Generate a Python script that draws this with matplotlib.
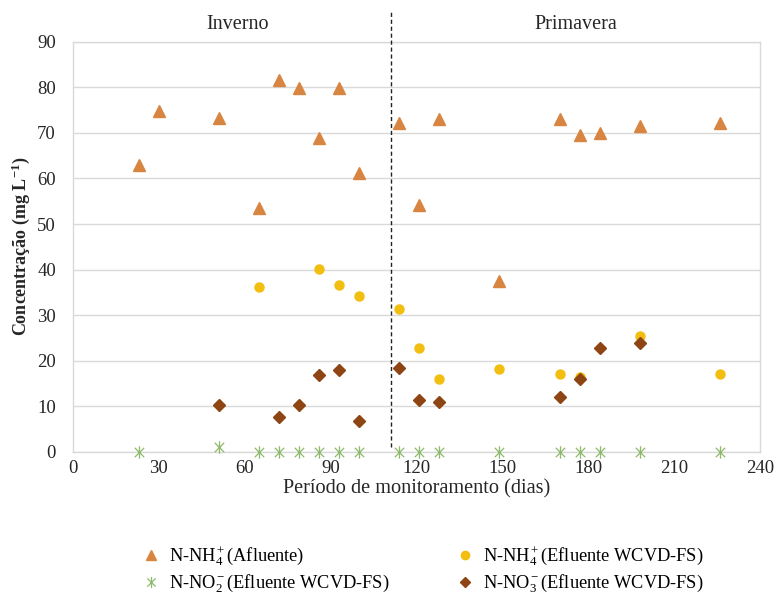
import matplotlib
matplotlib.use("Agg")
import matplotlib.pyplot as plt
from matplotlib.path import Path
from matplotlib.lines import Line2D

plt.rcParams['font.family'] = ['Liberation Serif', 'DejaVu Serif']
plt.rcParams['mathtext.fontset'] = 'custom'
plt.rcParams['mathtext.rm'] = 'Liberation Serif'
plt.rcParams['mathtext.it'] = 'Liberation Serif:italic'
plt.rcParams['mathtext.bf'] = 'Liberation Serif:bold'

# ---- data ----
days_afl = [23, 30, 51, 65, 72, 79, 86, 93, 100, 114, 121, 128, 149, 170, 177, 184, 198, 226]
nh4_afl = [63.0, 74.8, 73.3, 53.5, 81.6, 79.8, 68.9, 79.8, 61.3, 72.2, 54.2, 73.1, 37.5, 73.1, 69.5, 70.0, 71.5, 72.2]

days_nh4_ef = [65, 86, 93, 100, 114, 121, 128, 149, 170, 177, 198, 226]
nh4_ef = [36.1, 40.1, 36.6, 34.3, 31.3, 22.7, 16.1, 18.1, 17.2, 16.5, 25.5, 17.2]

days_no2 = [23, 51, 65, 72, 79, 86, 93, 100, 114, 121, 128, 149, 170, 177, 184, 198, 226]
no2_ef = [0.0, 1.2, 0.0, 0.0, 0.0, 0.0, 0.0, 0.0, 0.0, 0.0, 0.0, 0.0, 0.0, 0.0, 0.0, 0.0, 0.0]

days_no3 = [51, 72, 79, 86, 93, 100, 114, 121, 128, 170, 177, 184, 198]
no3_ef = [10.2, 7.7, 10.2, 16.9, 17.9, 6.8, 18.4, 11.5, 11.0, 12.1, 15.9, 22.7, 24.0]

season_split = 111
season_labels = ['Inverno', 'Primavera']
x_ticks = [0, 30, 60, 90, 120, 150, 180, 210, 240]
y_ticks = [0, 10, 20, 30, 40, 50, 60, 70, 80, 90]

labels = [r'N-NH$_4^+$(Afluente)',
          r'N-NO$_2^-$(Efluente WCVD-FS)',
          r'N-NH$_4^+$(Efluente WCVD-FS)',
          r'N-NO$_3^-$(Efluente WCVD-FS)']

c_afl = '#D98542'
c_nh4 = '#F2BE0F'
c_no2 = '#8DBB6C'
c_no3 = '#8E4413'
c_txt = '#262626'

star = Path([(0, -1), (0, 1), (-0.75, -0.75), (0.75, 0.75), (-0.75, 0.75), (0.75, -0.75)],
            [Path.MOVETO, Path.LINETO, Path.MOVETO, Path.LINETO, Path.MOVETO, Path.LINETO])

fig = plt.figure(figsize=(7.78, 5.97), dpi=100)
ax = fig.add_axes([0.0934, 0.2429, 0.8836, 0.6873])

ax.plot(days_afl, nh4_afl, linestyle='none', marker='^', ms=8, color=c_afl, zorder=3)
ax.plot(days_nh4_ef, nh4_ef, linestyle='none', marker='o', ms=6.5, color=c_nh4, zorder=3)
ax.plot(days_no2, no2_ef, linestyle='none', marker=star, ms=9, mew=0.9,
        color=c_no2, markeredgecolor=c_no2, zorder=3, clip_on=False)
ax.plot(days_no3, no3_ef, linestyle='none', marker='D', ms=6.5, color=c_no3, zorder=4)

ax.set_xlim(0, 240)
ax.set_ylim(0, 90)
ax.set_xticks(x_ticks)
ax.set_yticks(y_ticks)
ax.tick_params(axis='both', length=0, labelsize=13.5, colors=c_txt)
ax.tick_params(axis='x', pad=6)
ax.tick_params(axis='y', pad=12)
ax.yaxis.grid(True, color='#D9D9D9', lw=1.0)
ax.set_axisbelow(True)
for s in ax.spines.values():
    s.set_color('#D9D9D9')
    s.set_linewidth(1.0)

# season divider
ax.plot([season_split, season_split], [1.1, 96.5], ls=(0, (3, 2)), color='#222222',
        lw=1.0, clip_on=False, zorder=5)
ax.text(season_split / 2 + 2, 93.7, season_labels[0], ha='center', va='center', fontsize=14.5, color=c_txt)
ax.text((season_split + 240) / 2, 93.7, season_labels[1], ha='center', va='center', fontsize=14.5, color=c_txt)

ax.set_xlabel('Período de monitoramento (dias)', fontsize=14.6, color=c_txt, labelpad=1.5)
ax.set_ylabel(r'Concentração (mg L$^{\mathbf{-1}}$)', fontsize=13, fontweight='bold',
              color=c_txt, labelpad=4)

handles = [
    Line2D([], [], ls='none', marker='^', ms=7, color=c_afl),
    Line2D([], [], ls='none', marker=star, ms=8, color=c_no2, mew=0.9),
    Line2D([], [], ls='none', marker='o', ms=6, color=c_nh4),
    Line2D([], [], ls='none', marker='D', ms=5.5, color=c_no3),
]
fig.legend(handles, labels, ncol=2, loc='center', bbox_to_anchor=(0.544, 0.046),
           frameon=False, fontsize=13.2, handlelength=0.9, handletextpad=0.5,
           columnspacing=3.7, labelspacing=0.25)

fig.savefig('out.png', dpi=100)
